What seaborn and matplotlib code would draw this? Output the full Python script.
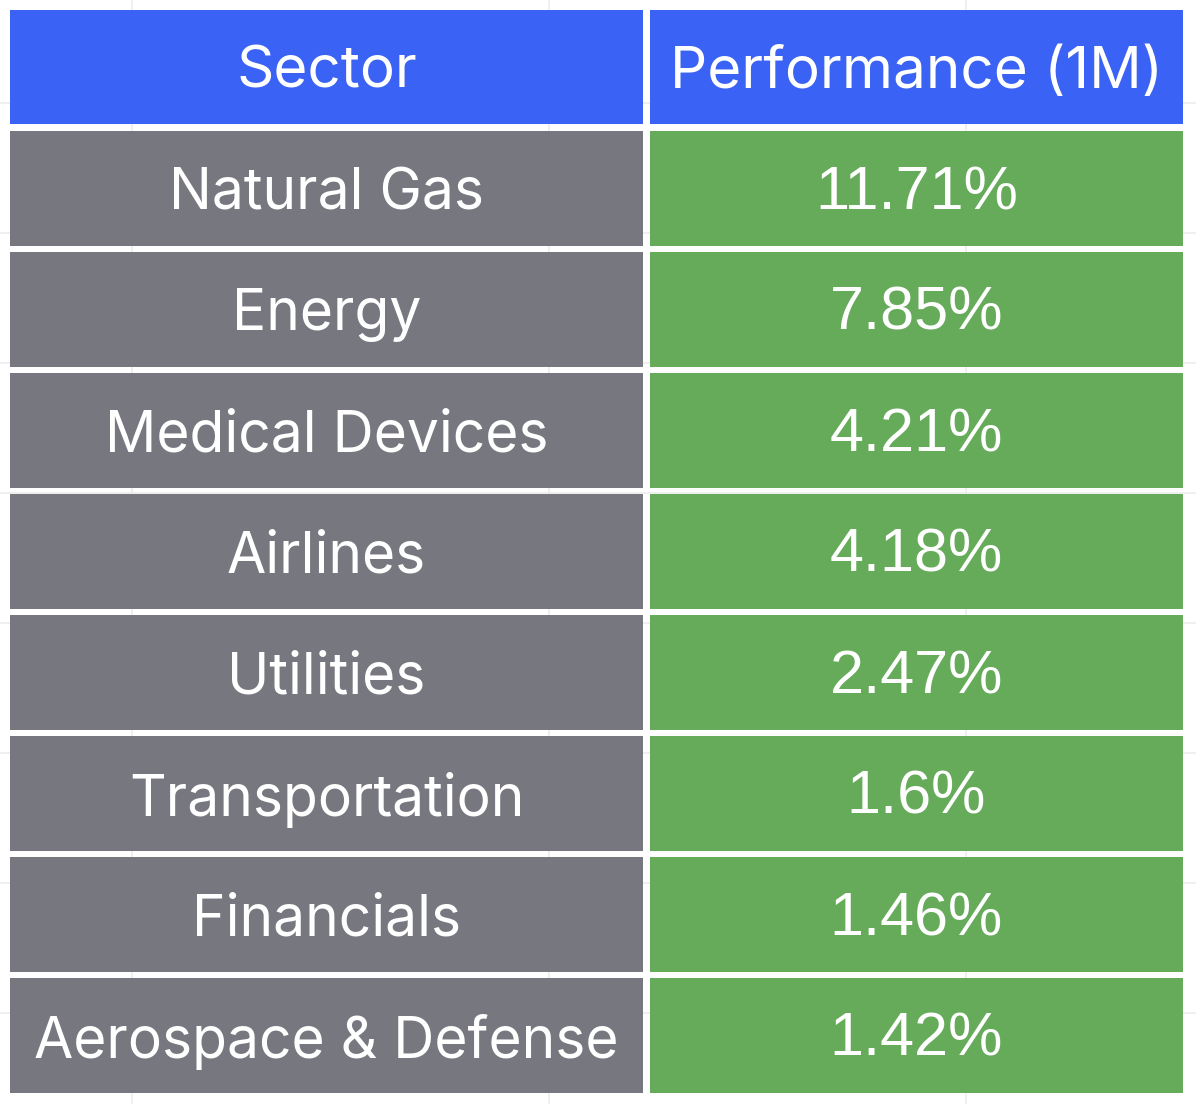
import matplotlib
matplotlib.use("Agg")
import matplotlib.pyplot as plt
from matplotlib.patches import Rectangle
import seaborn as sns

sns.set_theme(style="white")
plt.rcParams['font.family'] = ['Inter', 'DejaVu Sans']

headers = ["Sector", "Performance (1M)"]
sectors = ["Natural Gas", "Energy", "Medical Devices", "Airlines", "Utilities",
           "Transportation", "Financials", "Aerospace & Defense"]
performance = ["11.71%", "7.85%", "4.21%", "4.18%", "2.47%", "1.6%", "1.46%", "1.42%"]

header_color = "#3a63f5"
sector_color = "#77787f"
perf_color = "#66ab5a"
grid_color = "#ececec"

W, H = 1196, 1104
fig = plt.figure(figsize=(W / 100, H / 100), dpi=100)
ax = fig.add_axes([0, 0, 1, 1])
ax.set_xlim(0, W)
ax.set_ylim(H, 0)
ax.axis("off")

# faint background grid
for gx in [132, 549, 966]:
    ax.axvline(gx, color=grid_color, lw=1.2, zorder=0)
for gy in [103, 233, 363, 493, 623, 753, 883, 1013]:
    ax.axhline(gy, color=grid_color, lw=1.2, zorder=0)

x0, y0 = 10, 10
col_w = [633, 533]
gap = 6
row_pitch = 121
row_h = 115

col_x = [x0, x0 + col_w[0] + gap + 1]

rows = [(headers[0], headers[1], header_color, header_color)] + \
       [(s, p, sector_color, perf_color) for s, p in zip(sectors, performance)]

for i, (a, b, ca, cb) in enumerate(rows):
    top = y0 + i * row_pitch
    h = row_h - (1 if i == 0 else 0)
    for j, (txt, c) in enumerate([(a, ca), (b, cb)]):
        ax.add_patch(Rectangle((col_x[j], top), col_w[j], h, facecolor=c,
                               edgecolor="none", zorder=1))
        is_num = (i > 0 and j == 1)
        if is_num:
            fam, fsz, dy = ['Liberation Sans', 'DejaVu Sans'], 44, 5
        elif i == 0:
            fam, fsz, dy = ['Inter', 'DejaVu Sans'], 42, 6
        else:
            fam, fsz, dy = ['Inter', 'DejaVu Sans'], 41, 6
        ax.text(col_x[j] + col_w[j] / 2, top + h / 2 + dy, txt, color="white",
                fontsize=fsz, family=fam, ha="center", va="center", zorder=2)

fig.savefig("out.png", dpi=100, facecolor="white")
